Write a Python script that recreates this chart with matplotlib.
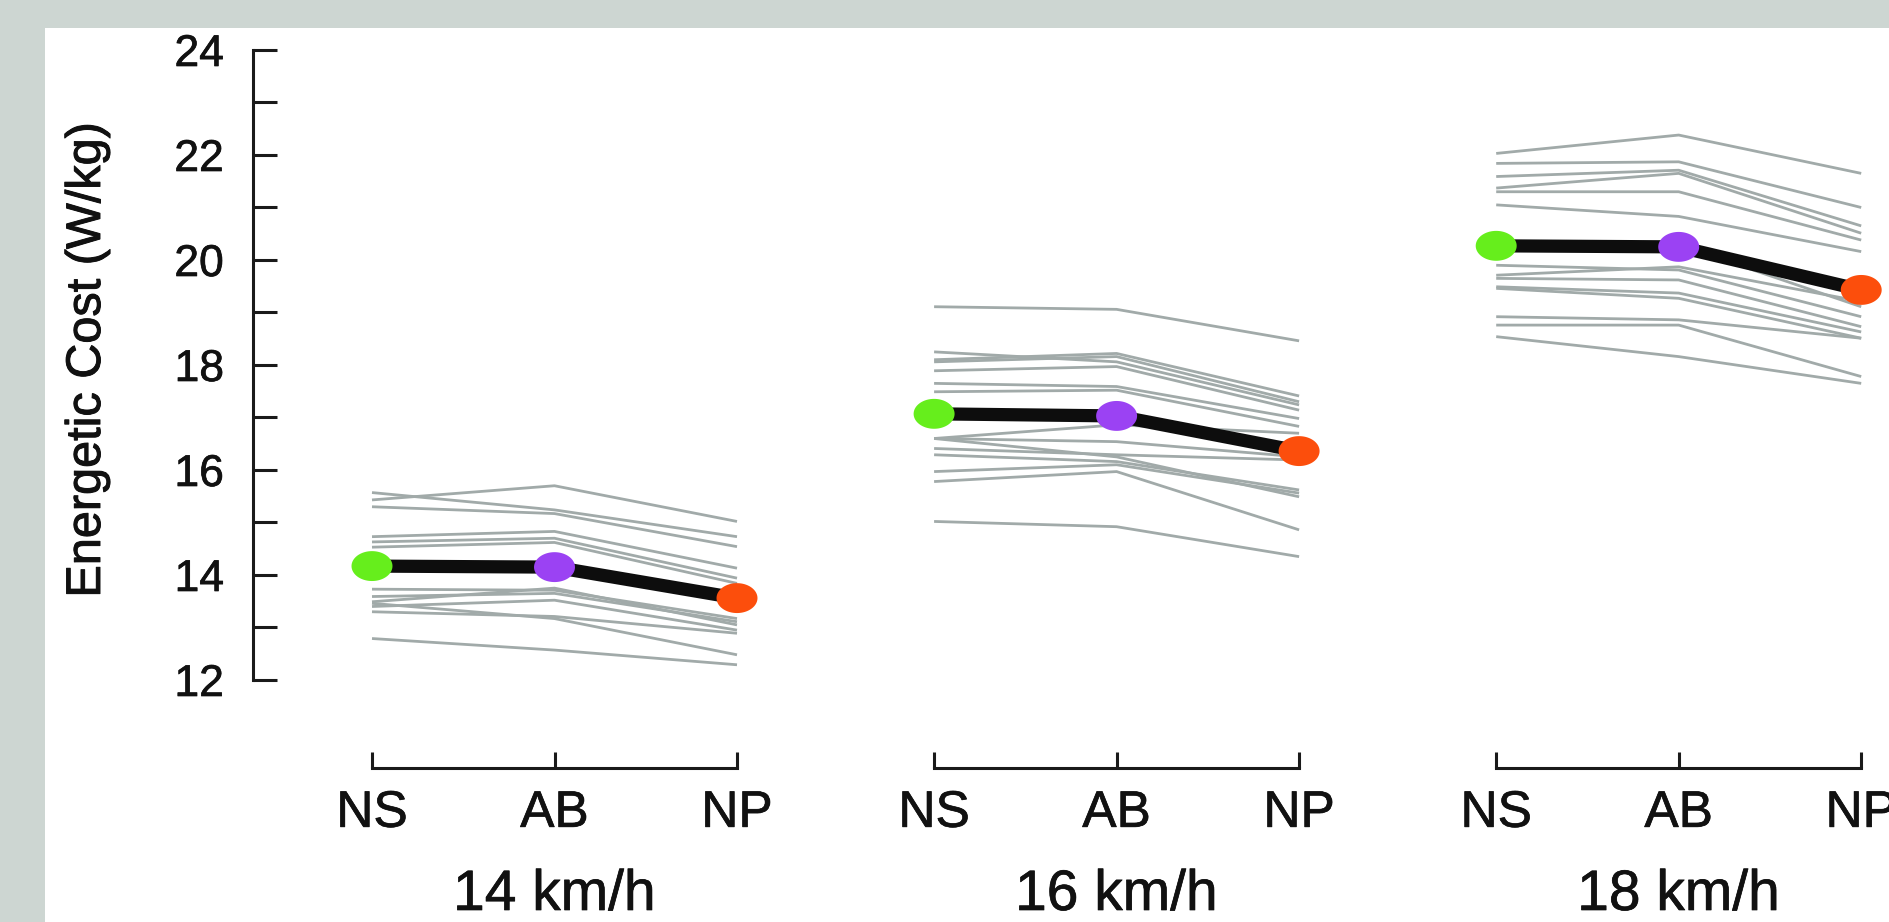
import numpy as np
import matplotlib
matplotlib.use('Agg')
import matplotlib.pyplot as plt
import matplotlib.patheffects as pe
from matplotlib.path import Path

plt.rcParams['font.family'] = ['Liberation Sans', 'DejaVu Sans']

# data
conditions = ['NS', 'AB', 'NP']
speeds = ['14 km/h', '16 km/h', '18 km/h']

# one row per runner: NS, AB, NP
runners_14 = [
    [15.43, 15.70, 15.02],
    [15.57, 15.24, 14.73],
    [15.30, 15.17, 14.54],
    [14.73, 14.83, 14.13],
    [14.63, 14.70, 13.94],
    [14.53, 14.62, 13.84],
    [13.73, 13.71, 13.17],
    [13.59, 13.65, 13.11],
    [13.49, 13.75, 13.05],
    [13.40, 13.52, 12.95],
    [13.30, 13.21, 12.89],
    [13.46, 13.17, 12.48],
    [12.79, 12.57, 12.29],
]
runners_16 = [
    [19.11, 19.06, 18.46],
    [18.25, 18.06, 17.24],
    [18.10, 18.22, 17.41],
    [18.06, 18.16, 17.30],
    [17.89, 17.97, 17.14],
    [17.65, 17.59, 16.98],
    [17.49, 17.52, 16.83],
    [16.60, 16.86, 16.70],
    [16.60, 16.54, 16.25],
    [16.41, 16.29, 16.19],
    [16.29, 16.16, 15.62],
    [15.97, 16.10, 15.56],
    [15.78, 15.97, 14.86],
    [16.60, 16.25, 15.49],
    [15.02, 14.92, 14.35],
]
runners_18 = [
    [22.03, 22.38, 21.65],
    [21.84, 21.87, 21.00],
    [21.59, 21.71, 20.65],
    [21.37, 21.65, 20.51],
    [21.30, 21.30, 20.38],
    [21.05, 20.83, 20.16],
    [20.32, 20.29, 19.11],
    [19.90, 19.81, 18.92],
    [19.71, 19.87, 19.21],
    [19.65, 19.62, 18.73],
    [19.49, 19.37, 18.63],
    [19.46, 19.27, 18.51],
    [18.92, 18.86, 18.51],
    [18.76, 18.76, 17.78],
    [18.54, 18.16, 17.65],
]
means_14 = [14.17, 14.15, 13.56]
means_16 = [17.07, 17.03, 16.36]
means_18 = [20.27, 20.25, 19.43]

runners = [runners_14, runners_16, runners_18]
means = [means_14, means_16, means_18]
cond_colors = ['#66ee1c', '#9b42f3', '#fc4e0c']
ink = '#111111'

# squashed circle, the source picture is stretched sideways
t = np.linspace(0, 2 * np.pi, 80)
ellipse = Path(np.column_stack([np.cos(t), 0.73 * np.sin(t)]), closed=True)

# very thin outline, the original letters are a little heavier than regular
heavy = [pe.withStroke(linewidth=0.5, foreground=ink)]

fig = plt.figure(figsize=(18.9, 9.22), dpi=100)
fig.patch.set_facecolor('#cdd6d2')
ax = fig.add_axes([45 / 1890, 0, 1845 / 1890, 894 / 922])
ax.set_facecolor('white')

gap = 3.08
step = 182.5
x0 = 372
ppu = 52.5  # pixels per W/kg
ax.set_xlim((45 - x0) / step, (1890 - x0) / step)
ax.set_ylim(24 - 872 / ppu, 24 + 22 / ppu)

base_y = 24 - 718 / ppu
xticks = []
xlabels = []
for g in range(3):
    xs = np.arange(3) + g * gap
    for row in runners[g]:
        ax.plot(xs, row, color='#a1aaa9', lw=2.0, zorder=2, solid_capstyle='butt')
    ax.plot(xs, means[g], color='#0d0d0d', lw=9.5, zorder=3)
    ax.scatter(xs, means[g], s=29.5 ** 2, marker=ellipse, c=cond_colors,
               linewidths=0, zorder=4)
    ax.plot([xs[0], xs[-1]], [base_y, base_y], color='#1a1a1a', lw=2.2,
            solid_capstyle='projecting', zorder=1)
    ax.text(xs[1], 24 - 860 / ppu, speeds[g], ha='center', va='baseline',
            fontsize=41, color=ink, path_effects=heavy)
    xticks += list(xs)
    xlabels += conditions

for s in ['top', 'right']:
    ax.spines[s].set_visible(False)
ax.spines['bottom'].set_visible(False)
ax.spines['bottom'].set_position(('data', base_y))
ax.spines['left'].set_position(('data', (253 - x0) / step))
ax.spines['left'].set_bounds(12, 24)
ax.spines['left'].set_linewidth(2.2)
ax.spines['left'].set_color('#1a1a1a')

ax.set_xticks(xticks)
ax.set_xticklabels(xlabels)
ax.tick_params(axis='x', direction='in', length=11.5, width=2.2,
               color='#1a1a1a', labelsize=37, pad=15, labelcolor=ink)

ax.set_yticks(np.arange(12, 25, 2))
ax.set_yticks(np.arange(13, 24, 2), minor=True)
ax.tick_params(axis='y', which='both', direction='in', length=17, width=2.2,
               color='#1a1a1a')
ax.tick_params(axis='y', labelsize=32, pad=21, labelcolor=ink)

for lab in ax.get_xticklabels() + ax.get_yticklabels():
    lab.set_path_effects(heavy)

ax.text((100 - x0) / step, 24 - 310 / ppu, 'Energetic Cost (W/kg)',
        rotation=90, rotation_mode='anchor', ha='center', va='baseline',
        fontsize=35, color=ink,
        path_effects=[pe.withStroke(linewidth=0.7, foreground=ink)])

fig.savefig('out.png', dpi=100, facecolor=fig.get_facecolor())
